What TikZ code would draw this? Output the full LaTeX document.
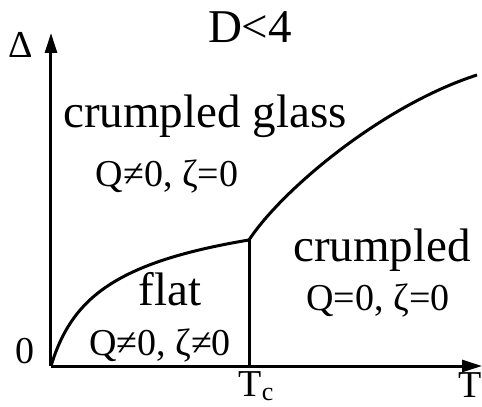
\documentclass[tikz,border=0pt]{standalone}
\usepackage{fontspec}
\setmainfont{Liberation Serif}
\usetikzlibrary{arrows.meta}
\tikzset{
  axis/.style={line width=3pt, -{Triangle[length=20pt,width=12pt]}},
  phase/.style={line width=3pt},
  big/.style={font=\fontsize{47}{50}\selectfont, anchor=base, inner sep=0pt},
  small/.style={font=\fontsize{38}{40}\selectfont, anchor=base, inner sep=0pt}
}

\begin{document}
\begin{tikzpicture}[x=1pt,y=1pt]
        \useasboundingbox (-51,-41) rectangle (431,366);
        \coordinate (O) at (0,0);
        \coordinate (Dtop) at (0,333);
        \coordinate (Tend) at (431,0);
        \coordinate (Tc) at (198,0);
        \coordinate (K) at (198,126);
        \coordinate (E) at (426,291);
        \draw[axis] (O)--(Dtop);
        \draw[axis] (O)--(Tend);
        \draw[phase] (O) .. controls (20,65) and (60,103) .. (K);
        \draw[phase] (Tc)--(K);
        \draw[phase] (K) .. controls (230,175) and (330,260) .. (E);
        \node[small] (delta) at (-30,308) {Δ};
        \node[small] (zero) at (-26,3) {0};
        \node[big] (dim) at (199,323) {D<4};
        \node[big] (glass) at (154,238) {crumpled glass};
        \node[small] (glassQ) at (116,179) {Q≠0, ζ=0};
        \node[big] (flat) at (119,61) {flat};
        \node[small] (flatQ) at (109,11) {Q≠0, ζ≠0};
        \node[big] (crum) at (331,104) {crumpled};
        \node[small] (crumQ) at (327,56) {Q=0, ζ=0};
        \node[small] (tc) at (205,-30) {T\raisebox{-4pt}{\fontsize{26}{27}\selectfont c}};
        \node[small] (tlab) at (419,-31) {T};
      \end{tikzpicture}
\end{document}
